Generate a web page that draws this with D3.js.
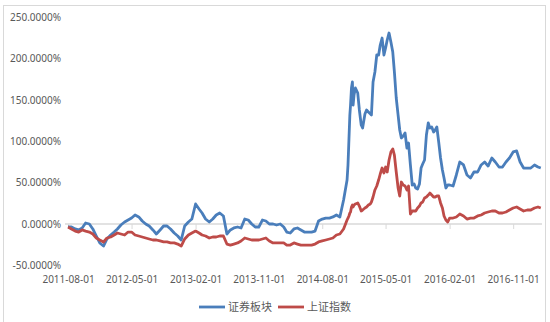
<!DOCTYPE html>
<html lang="zh">
<head>
<meta charset="UTF-8">
<title>证券板块 vs 上证指数</title>
<script src="https://d3js.org/d3.v7.min.js"></script>
<style>
    body { margin: 0; background: #fff; }
    svg { display: block; }
    .ylab text, .xlab text { font-family: "Noto Sans", "DejaVu Sans", sans-serif; font-size: 10px; fill: #595959; }
    .legend text { font-family: "Noto Sans CJK SC", sans-serif; font-size: 11px; fill: #595959; }
</style>
</head>
<body>
<svg width="550" height="322"></svg>
<script>
// dates shared by both series (roughly half-monthly, denser around the 2015 spike)
const dates = [
    "2011-08-01","2011-08-16","2011-09-01","2011-09-16","2011-10-01","2011-10-16","2011-11-01","2011-11-16","2011-12-01","2011-12-16",
    "2012-01-01","2012-01-16","2012-02-01","2012-02-16","2012-03-01","2012-03-16","2012-04-01","2012-04-16","2012-05-01","2012-05-16","2012-06-01","2012-06-16",
    "2012-07-01","2012-07-16","2012-08-01","2012-08-16","2012-09-01","2012-09-16","2012-10-01","2012-10-16","2012-11-01","2012-11-16","2012-12-01","2012-12-16",
    "2013-01-01","2013-01-16","2013-02-01","2013-02-16","2013-03-01","2013-03-16","2013-04-01","2013-04-16","2013-05-01","2013-05-16","2013-06-01","2013-06-16",
    "2013-07-01","2013-07-16","2013-08-01","2013-08-16","2013-09-01","2013-09-16","2013-10-01","2013-10-16","2013-11-01","2013-11-16","2013-12-01","2013-12-16",
    "2014-01-01","2014-01-16","2014-02-01","2014-02-16","2014-03-01","2014-03-16","2014-04-01","2014-04-16","2014-05-01","2014-05-16","2014-06-01","2014-06-16",
    "2014-07-01","2014-07-16","2014-08-01","2014-08-16","2014-09-01","2014-09-16","2014-10-01","2014-10-16","2014-11-01","2014-11-16",
    "2014-11-20","2014-11-24","2014-11-28","2014-12-01","2014-12-05","2014-12-09","2014-12-12","2014-12-16","2014-12-22",
    "2015-01-01","2015-01-08","2015-01-16","2015-01-22","2015-02-01","2015-02-08","2015-02-16","2015-02-24",
    "2015-03-01","2015-03-08","2015-03-16","2015-03-24","2015-04-01","2015-04-08","2015-04-16","2015-04-24",
    "2015-05-01","2015-05-08","2015-05-16","2015-05-24","2015-06-01","2015-06-08","2015-06-16","2015-06-24",
    "2015-07-01","2015-07-08","2015-07-16","2015-07-24","2015-08-01","2015-08-08","2015-08-16","2015-08-24",
    "2015-09-01","2015-09-08","2015-09-16","2015-09-24","2015-10-01","2015-10-08","2015-10-16","2015-10-24",
    "2015-11-01","2015-11-08","2015-11-16","2015-11-24","2015-12-01","2015-12-08","2015-12-16","2015-12-24",
    "2016-01-01","2016-01-08","2016-01-16","2016-01-24","2016-02-01","2016-02-16","2016-03-01","2016-03-16","2016-04-01","2016-04-16",
    "2016-05-01","2016-05-16","2016-06-01","2016-06-16","2016-07-01","2016-07-16","2016-08-01","2016-08-16","2016-09-01","2016-09-16",
    "2016-10-01","2016-10-16","2016-11-01","2016-11-16","2016-12-01","2016-12-16",
    "2017-01-01","2017-01-16","2017-02-01","2017-02-16","2017-02-28"
];

// 证券板块 cumulative return, %
const brokers = [
    -3.6, -3.6, -6.0, -7.2, -4.8, 1.2, 0, -6.0, -14.5, -22.9,
    -26.6, -18.1, -13.3, -9.7, -6.0, -1.2, 2.4, 4.8, 7.2, 10.9, 8.5, 3.6,
    0, -2.4, -7.2, -12.1, -7.2, -2.4, -2.4, -6.0, -10.9, -14.5, -19.3, -2.4,
    2.4, 6.0, 24.2, 18.1, 13.3, 6.0, 2.4, 6.0, 10.9, 13.3, 9.7, -12.1,
    -7.2, -4.8, -3.6, -4.8, 6.0, 4.8, 0, -3.6, -3.6, 4.8, 3.6, 0,
    0, -1.2, 0, -3.6, -9.7, -10.9, -6.0, -4.8, -7.2, -9.7, -9.7, -9.7,
    -8.5, 3.6, 6.0, 7.2, 7.2, 8.5, 10.9, 8.5, 29.0, 53.1,
    71.3, 101.4, 131.6, 143.7, 164.3, 171.5, 143.7, 155.8, 164.3,
    158.2, 137.7, 119.6, 115.9, 132.9, 137.7, 135.3, 133.0,
    131.6, 171.5, 183.6, 204.1, 204.1, 216.2, 224.6, 204.1,
    212.6, 222.2, 230.7, 219.8, 207.7, 183.6, 152.2, 131.6,
    113.5, 103.9, 106.3, 109.9, 91.8, 97.8, 71.3, 47.1,
    48.3, 43.5, 42.3, 48.3, 67.6, 72.5, 77.3, 107.5,
    122.0, 115.9, 117.1, 111.1, 113.5, 117.1, 99.0, 79.7,
    65.2, 55.6, 43.5, 47.1, 47.1, 45.9, 59.2, 74.9, 71.3, 59.2,
    55.6, 62.8, 62.8, 71.3, 74.9, 70.0, 79.7, 74.9, 68.8, 68.8,
    74.9, 79.7, 87.0, 88.2, 74.9, 67.6,
    67.6, 67.6, 71.3, 68.8, 67.6
];

// 上证指数 cumulative return, %
const shIndex = [
    -3.6, -6.0, -8.5, -9.7, -7.2, -8.5, -9.7, -12.1, -16.9, -19.3,
    -21.7, -16.9, -15.7, -13.3, -10.9, -12.1, -13.3, -9.7, -9.7, -13.3, -14.5, -15.7,
    -16.9, -18.1, -19.3, -19.3, -20.5, -21.7, -21.7, -22.9, -22.9, -24.2, -26.6, -18.1,
    -13.3, -10.9, -8.5, -10.9, -13.3, -14.5, -16.9, -15.7, -15.7, -14.5, -14.5, -24.2,
    -25.4, -24.2, -22.9, -20.5, -16.9, -18.1, -19.3, -19.3, -19.3, -18.1, -16.9, -20.5,
    -22.9, -22.9, -22.9, -22.9, -25.4, -25.4, -22.9, -24.2, -25.4, -25.4, -25.4, -25.4,
    -24.2, -21.7, -20.5, -19.3, -18.1, -16.9, -13.3, -12.1, -6.0, 4.8,
    7.2, 9.7, 13.3, 14.5, 20.5, 22.9, 20.5, 22.9, 24.2,
    25.4, 21.7, 15.7, 16.9, 19.3, 20.5, 22.9, 24.2,
    26.6, 32.6, 41.1, 45.9, 53.1, 60.4, 67.6, 61.6,
    68.8, 62.8, 77.3, 87.0, 90.6, 83.3, 62.8, 43.5,
    33.8, 50.7, 47.1, 45.9, 41.1, 45.9, 12.1, 15.7,
    15.7, 15.7, 19.3, 21.7, 25.4, 26.6, 31.4, 32.6,
    35.0, 37.4, 35.0, 32.6, 32.6, 33.8, 33.8, 25.4,
    19.3, 9.7, 4.8, 2.4, 7.2, 7.2, 8.5, 12.1, 9.7, 6.0,
    7.2, 7.2, 9.7, 10.9, 13.3, 14.5, 15.7, 15.7, 13.3, 13.3,
    14.5, 16.9, 19.3, 20.5, 18.1, 15.7,
    16.9, 16.9, 19.3, 20.5, 19.3
];

const yTicks = [-50, 0, 50, 100, 150, 200, 250];
const xTickLabels = ["2011-08-01","2012-05-01","2013-02-01","2013-11-01","2014-08-01","2015-05-01","2016-02-01","2016-11-01"];
const seriesNames = ["证券板块", "上证指数"];
const colors = ["#4A7EBB", "#BE4B48"];

const parse = d3.timeParse("%Y-%m-%d");
const svg = d3.select("svg");

// chart area border
svg.append("rect")
    .attr("x", 3.5).attr("y", 5.5)
    .attr("width", 542).attr("height", 320)
    .attr("fill", "none").attr("stroke", "#d9d9d9");

const x = d3.scaleTime()
    .domain([parse("2011-08-01"), parse("2017-03-01")])
    .range([68, 541]);
const y = d3.scaleLinear().domain([-50, 250]).range([265.4, 17]);

// y labels
const yAxis = svg.append("g").attr("class", "ylab")
    .attr("transform", "translate(61,0)")
    .call(d3.axisLeft(y).tickValues(yTicks).tickSize(0).tickPadding(0)
        .tickFormat(d => d.toFixed(4) + "%"));
yAxis.select(".domain").remove();

// zero line with ticks
const zeroAxis = svg.append("g")
    .attr("transform", `translate(0,${y(0)})`)
    .call(d3.axisBottom(x).tickValues(xTickLabels.map(parse)).tickSize(5).tickFormat(""));
zeroAxis.select(".domain").attr("d", `M65,0H542`).attr("stroke", "#d9d9d9").attr("stroke-width", 1.5);
zeroAxis.selectAll(".tick line").attr("stroke", "#d9d9d9").attr("stroke-width", 1);

// x labels at the bottom
const xLab = svg.append("g").attr("class", "xlab")
    .attr("transform", "translate(0,275.5)")
    .call(d3.axisBottom(x).tickValues(xTickLabels.map(parse)).tickSize(0).tickPadding(0)
        .tickFormat(d3.timeFormat("%Y-%m-%d")));
xLab.select(".domain").remove();

const pts = dates.map(parse);
const line = d3.line()
    .x((d, i) => x(pts[i]))
    .y(d => y(d));

[brokers, shIndex].forEach((s, k) => {
    svg.append("path")
        .datum(s)
        .attr("fill", "none")
        .attr("stroke", colors[k])
        .attr("stroke-width", 2.8)
        .attr("stroke-linejoin", "round")
        .attr("d", line);
});

// legend
const legend = svg.append("g").attr("class", "legend");
const lx = [199, 278];
seriesNames.forEach((name, k) => {
    legend.append("line")
        .attr("x1", lx[k]).attr("x2", lx[k] + 26)
        .attr("y1", 307).attr("y2", 307)
        .attr("stroke", colors[k]).attr("stroke-width", 2.8);
    legend.append("text")
        .attr("x", lx[k] + 29).attr("y", 307)
        .attr("dy", "0.36em")
        .text(name);
});
</script>
</body>
</html>
